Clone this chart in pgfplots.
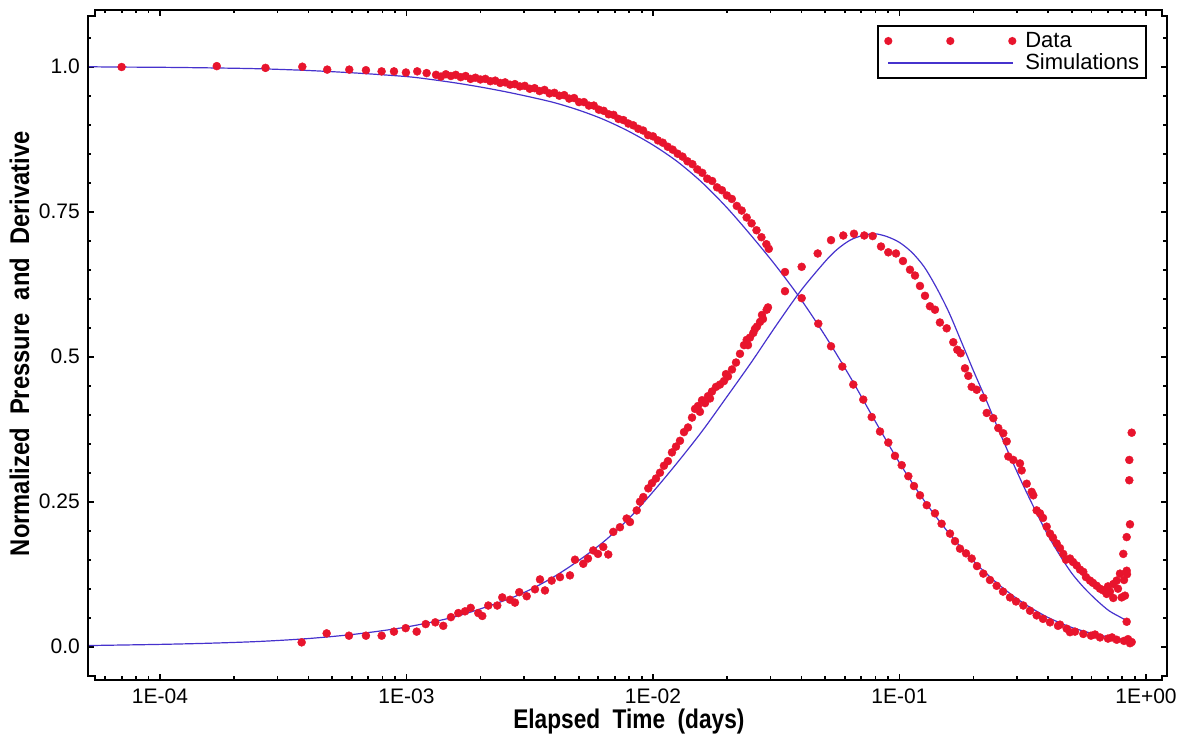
\documentclass[border=0pt]{standalone}
\usepackage{fontspec}
\setmainfont{Liberation Sans}
\usepackage{graphicx}
\usepackage{pgfplots}
\pgfplotsset{compat=1.18}
\definecolor{datared}{RGB}{232,20,45}
\definecolor{simblue}{RGB}{70,50,205}
\begin{document}
\begin{tikzpicture}
\path[use as bounding box] (0pt,0pt) rectangle (1187pt,736pt);
\begin{axis}[
  at={(88pt,56pt)}, anchor=south west,
  scale only axis, width=1079pt, height=670pt,
  xmode=log, xmin=5.105e-5, xmax=1.2166,
  ymin=-0.0574, ymax=1.0978,
  axis line style={draw=none},
  xtick={1e-4,1e-3,1e-2,1e-1,1},
  xticklabels={1E-04,1E-03,1E-02,1E-01,1E+00},
  minor xtick={6e-5,7e-5,8e-5,9e-5,2e-4,3e-4,4e-4,5e-4,6e-4,7e-4,8e-4,9e-4,2e-3,3e-3,4e-3,5e-3,6e-3,7e-3,8e-3,9e-3,2e-2,3e-2,4e-2,5e-2,6e-2,7e-2,8e-2,9e-2,0.2,0.3,0.4,0.5,0.6,0.7,0.8,0.9},
  ytick={0,0.25,0.5,0.75,1},
  yticklabels={0.0,0.25,0.5,0.75,1.0},
  minor ytick={-0.05,0.05,0.1,0.15,0.2,0.3,0.35,0.4,0.45,0.55,0.6,0.65,0.7,0.8,0.85,0.9,0.95,1.05},
  tick align=inside,
  major tick length=6pt, minor tick length=3.5pt,
  every tick/.style={black, line width=1.6pt},
  tick label style={font=\fontsize{21}{24}\selectfont, inner sep=0pt},
  xticklabel style={anchor=north, yshift=-9pt},
  yticklabel style={anchor=east, xshift=-8pt},
  xlabel={\scalebox{0.84}[1]{\fontsize{27}{30}\selectfont\bfseries Elapsed\hspace{0.55em}Time\hspace{0.55em}(days)}},
  xlabel style={at={(axis description cs:0.5013,-0.0731)}, anchor=base, inner sep=0pt},
  ylabel={\scalebox{0.88}[1]{\fontsize{27}{30}\selectfont\bfseries Normalized\hspace{0.55em}Pressure\hspace{0.55em}and\hspace{0.55em}Derivative}},
  ylabel style={at={(axis description cs:-0.0545,0.502)}, anchor=base, inner sep=0pt},
  legend style={at={(0.9815,0.9776)}, anchor=north east, draw=black, line width=2pt, fill=white,
    font=\fontsize{22}{22}\selectfont, inner xsep=6pt, inner ysep=4pt, row sep=0pt, column sep=8pt,
    nodes={inner sep=1pt, text height=16pt, text depth=4pt}, cells={anchor=west}},
]
% Data: normalized pressure
\addplot[only marks, mark=*, mark size=4pt, color=datared,
  legend image code/.code={\fill[datared] (0pt,0pt) circle[radius=3pt] (62pt,0pt) circle[radius=3pt] (124pt,0pt) circle[radius=3pt];}]
coordinates {
(6.99e-5,0.9995) (1.70e-4,1.001) (2.68e-4,0.998) (3.78e-4,1.000) (4.77e-4,0.995) (5.86e-4,0.995) (6.85e-4,0.994) (7.93e-4,0.992) (8.90e-4,0.992) (9.95e-4,0.990) (1.106e-3,0.992) (1.207e-3,0.989)
(1.318e-3,0.986) (1.380e-3,0.983) (1.445e-3,0.987) (1.514e-3,0.984) (1.585e-3,0.986) (1.660e-3,0.982) (1.738e-3,0.984) (1.820e-3,0.979) (1.905e-3,0.981) (1.995e-3,0.978) (2.089e-3,0.979) (2.188e-3,0.975) (2.291e-3,0.976) (2.399e-3,0.972) (2.512e-3,0.973) (2.630e-3,0.969) (2.754e-3,0.970) (2.884e-3,0.966) (3.020e-3,0.967) (3.162e-3,0.962) (3.311e-3,0.963) (3.467e-3,0.958) (3.631e-3,0.960) (3.802e-3,0.954) (3.981e-3,0.955) (4.169e-3,0.950) (4.365e-3,0.951) (4.571e-3,0.945) (4.786e-3,0.946) (5.012e-3,0.939) (5.248e-3,0.939) (5.495e-3,0.933) (5.754e-3,0.933) (6.026e-3,0.926) (6.310e-3,0.924) (6.607e-3,0.918) (6.918e-3,0.917) (7.244e-3,0.910) (7.586e-3,0.908) (7.943e-3,0.902) (8.318e-3,0.899) (8.710e-3,0.893) (9.120e-3,0.890) (9.550e-3,0.882) (1.000e-2,0.880) (1.047e-2,0.873) (1.096e-2,0.869) (1.148e-2,0.862) (1.202e-2,0.857) (1.259e-2,0.850) (1.318e-2,0.845) (1.380e-2,0.837) (1.445e-2,0.832) (1.514e-2,0.823) (1.585e-2,0.817) (1.660e-2,0.807) (1.738e-2,0.803) (1.820e-2,0.792) (1.905e-2,0.787) (1.995e-2,0.778) (2.089e-2,0.772) (2.188e-2,0.760) (2.291e-2,0.752) (2.399e-2,0.740) (2.512e-2,0.730) (2.630e-2,0.718) (2.754e-2,0.706) (2.884e-2,0.694) (2.951e-2,0.686)
(3.432e-2,0.646) (4.011e-2,0.601) (4.684e-2,0.557) (5.275e-2,0.518) (5.861e-2,0.483) (6.496e-2,0.452) (7.131e-2,0.426) (7.715e-2,0.396) (8.336e-2,0.371) (9.008e-2,0.352) (9.588e-2,0.329) (0.1021,0.313) (0.1086,0.294) (0.1145,0.277) (0.1211,0.261) (0.1290,0.244) (0.1393,0.230) (0.1482,0.212) (0.1603,0.195) (0.1680,0.182) (0.1760,0.169) (0.1862,0.161) (0.1963,0.152) (0.2063,0.139) (0.2188,0.126) (0.2328,0.115) (0.2479,0.105) (0.2630,0.095) (0.2808,0.085) (0.2970,0.078) (0.3180,0.071) (0.3384,0.062) (0.3602,0.054) (0.3822,0.048) (0.4080,0.042) (0.4395,0.036) (0.4478,0.038) (0.4768,0.031) (0.4917,0.025) (0.5152,0.026) (0.5567,0.022) (0.5984,0.019) (0.6211,0.021) (0.6507,0.016) (0.7010,0.014) (0.7278,0.016) (0.7604,0.012) (0.8143,0.010) (0.8453,0.013) (0.8612,0.006) (0.8750,0.008)
};
\addlegendentry{Data}
% Data: derivative
\addplot[only marks, mark=*, mark size=4pt, color=datared, forget plot]
coordinates {
(3.757e-4,0.0075) (4.745e-4,0.023) (5.844e-4,0.019) (6.850e-4,0.019) (7.932e-4,0.019) (8.897e-4,0.026) (9.926e-4,0.032) (1.100e-3,0.026) (1.197e-3,0.039) (1.309e-3,0.042) (1.410e-3,0.036) (1.515e-3,0.051) (1.623e-3,0.058) (1.728e-3,0.061) (1.822e-3,0.067) (1.956e-3,0.058) (2.030e-3,0.053) (2.147e-3,0.071) (2.335e-3,0.071) (2.447e-3,0.085) (2.630e-3,0.081) (2.755e-3,0.076) (2.868e-3,0.094) (3.074e-3,0.087) (3.321e-3,0.099) (3.480e-3,0.116) (3.646e-3,0.097) (3.882e-3,0.114) (4.195e-3,0.120) (4.605e-3,0.123) (4.826e-3,0.150) (5.214e-3,0.143) (5.449e-3,0.152) (5.726e-3,0.166) (5.984e-3,0.160) (6.286e-3,0.172) (6.587e-3,0.159) (6.902e-3,0.198) (7.346e-3,0.206) (7.821e-3,0.221) (8.066e-3,0.215) (8.590e-3,0.235) (8.857e-3,0.250) (9.135e-3,0.258) (9.571e-3,0.273)
(9.906e-3,0.282) (1.0285e-2,0.290) (1.0676e-2,0.300) (1.108e-2,0.312) (1.150e-2,0.320) (1.194e-2,0.335) (1.240e-2,0.345) (1.287e-2,0.355) (1.336e-2,0.370) (1.387e-2,0.378) (1.440e-2,0.395) (1.481e-2,0.410) (1.523e-2,0.415) (1.551e-2,0.405) (1.581e-2,0.425) (1.626e-2,0.420) (1.672e-2,0.432) (1.703e-2,0.428) (1.736e-2,0.440) (1.802e-2,0.448) (1.870e-2,0.452) (1.941e-2,0.458) (1.978e-2,0.470) (2.015e-2,0.466) (2.092e-2,0.478) (2.172e-2,0.490) (2.254e-2,0.505) (2.340e-2,0.520) (2.400e-2,0.529) (2.429e-2,0.520) (2.475e-2,0.533) (2.553e-2,0.541) (2.593e-2,0.548) (2.642e-2,0.552) (2.718e-2,0.560) (2.768e-2,0.572) (2.794e-2,0.565) (2.893e-2,0.581) (2.928e-2,0.585)
(3.432e-2,0.613) (4.011e-2,0.655) (4.658e-2,0.678) (5.275e-2,0.701) (5.916e-2,0.709) (6.538e-2,0.712) (7.198e-2,0.709) (7.787e-2,0.708) (8.414e-2,0.690) (9.008e-2,0.680) (9.678e-2,0.678) (0.1033,0.665) (0.1103,0.650) (0.1156,0.640) (0.1211,0.622) (0.1269,0.605) (0.1329,0.587) (0.1393,0.581) (0.1459,0.559) (0.1554,0.549) (0.1653,0.525) (0.1716,0.512) (0.1771,0.506) (0.1844,0.480) (0.1902,0.467) (0.1963,0.448) (0.2057,0.443) (0.2188,0.429) (0.2259,0.403) (0.2402,0.394) (0.2516,0.377) (0.2636,0.368) (0.2722,0.354) (0.2763,0.328) (0.2895,0.322) (0.3082,0.316) (0.3131,0.304) (0.3281,0.281) (0.3438,0.267) (0.3490,0.261) (0.3602,0.235) (0.3715,0.230) (0.3822,0.222) (0.3956,0.207) (0.4080,0.195) (0.4194,0.188) (0.4342,0.178) (0.4478,0.170) (0.4617,0.160) (0.4737,0.150) (0.4917,0.152) (0.5056,0.146) (0.5236,0.140) (0.5398,0.133) (0.5567,0.129) (0.5709,0.120) (0.5929,0.114) (0.6095,0.110) (0.6310,0.105) (0.6507,0.100) (0.6709,0.097) (0.6926,0.091) (0.7010,0.104) (0.7145,0.095) (0.7367,0.108) (0.7367,0.084) (0.7604,0.114) (0.7698,0.100) (0.7969,0.085) (0.7843,0.126) (0.8143,0.115) (0.8350,0.131) (0.8218,0.088) (0.8375,0.125) (0.8089,0.160) (0.8350,0.189) (0.8612,0.211) (0.8556,0.287) (0.8556,0.322) (0.8750,0.369) (0.8350,0.043)
};
% Simulation: pressure
\addplot[simblue, line width=1.2pt, smooth, no marks,
  legend image code/.code={\draw[simblue, line width=1.2pt] (0pt,0pt) -- (125pt,0pt);}]
coordinates {
(5.129e-5,1.000) (6.310e-5,0.9995) (1e-4,0.999) (1.585e-4,0.998) (2.512e-4,0.9965) (3.981e-4,0.9935) (6.310e-4,0.989) (1e-3,0.983) (1.259e-3,0.978) (1.585e-3,0.972) (1.995e-3,0.965) (2.512e-3,0.957) (3.162e-3,0.948) (3.981e-3,0.938) (5.012e-3,0.925) (6.310e-3,0.909) (7.943e-3,0.889) (1e-2,0.865) (1.259e-2,0.836) (1.585e-2,0.800) (1.995e-2,0.757) (2.512e-2,0.708) (3.162e-2,0.656) (3.981e-2,0.599) (5.012e-2,0.535) (6.310e-2,0.465) (7.943e-2,0.390) (0.1,0.317) (0.1259,0.252) (0.1585,0.196) (0.1995,0.148) (0.2512,0.108) (0.3162,0.076) (0.3981,0.051) (0.5012,0.033) (0.6310,0.021) (0.7943,0.013) (0.8710,0.011)
};
\addlegendentry{Simulations}
% Simulation: derivative
\addplot[simblue, line width=1.2pt, smooth, no marks, forget plot]
coordinates {
(5.129e-5,0.002) (1e-4,0.004) (1.585e-4,0.006) (2.512e-4,0.009) (3.981e-4,0.014) (6.310e-4,0.022) (1e-3,0.034) (1.585e-3,0.052) (2.512e-3,0.080) (3.162e-3,0.098) (3.981e-3,0.121) (5.012e-3,0.149) (6.310e-3,0.181) (7.943e-3,0.220) (1e-2,0.267) (1.259e-2,0.318) (1.585e-2,0.372) (1.995e-2,0.431) (2.512e-2,0.491) (3.162e-2,0.554) (3.981e-2,0.614) (5.012e-2,0.665) (5.623e-2,0.686) (6.310e-2,0.701) (7.079e-2,0.709) (7.943e-2,0.712) (8.913e-2,0.707) (0.1,0.697) (0.1122,0.680) (0.1259,0.655) (0.1413,0.619) (0.1585,0.577) (0.1778,0.527) (0.1995,0.476) (0.2239,0.427) (0.2512,0.376) (0.2818,0.327) (0.3162,0.280) (0.3548,0.236) (0.3981,0.194) (0.4467,0.158) (0.5012,0.126) (0.5623,0.101) (0.6310,0.080) (0.7079,0.062) (0.7943,0.050) (0.8511,0.043)
};
\end{axis}
\draw[line width=2.4pt, line join=miter] (95pt,56pt) -- (1162pt,56pt) -- (1162pt,60pt) -- (1167pt,60pt) -- (1167pt,720pt) -- (1162pt,720pt) -- (1162pt,726pt) -- (95pt,726pt) -- (95pt,720pt) -- (88pt,720pt) -- (88pt,60pt) -- (95pt,60pt) -- cycle;
\end{tikzpicture}
\end{document}
